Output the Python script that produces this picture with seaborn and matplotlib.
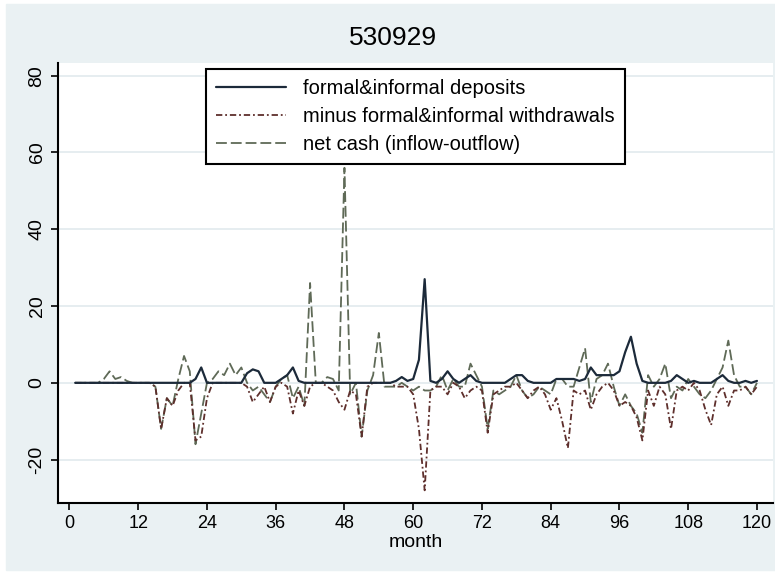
import matplotlib
matplotlib.use("Agg")
import matplotlib.pyplot as plt
import numpy as np
import pandas as pd
import seaborn as sns
from matplotlib.patches import Rectangle

sns.set_theme(style="white")
plt.rcParams["font.family"] = ["Liberation Sans Narrow", "Liberation Sans", "DejaVu Sans"]
plt.rcParams["text.color"] = "black"
plt.rcParams["xtick.color"] = "black"
plt.rcParams["ytick.color"] = "black"
plt.rcParams["axes.labelcolor"] = "black"

# %%
months = list(range(1, 121))

deposits = [
    0, 0, 0, 0, 0, 0, 0, 0, 0, 0,
    0, 0, 0, 0, 0, 0, 0, 0, 0, 0,
    0, 1, 4, 0, 0, 0, 0, 0, 0, 0,
    2.5, 3.5, 3, 0, 0, 0, 1, 2, 4, 0.5,
    0, 0, 0, 0, 0, 0, 0, 0, 0, 0,
    0, 0, 0, 0, 0, 0, 0.5, 1.5, 0.5, 1,
    6, 27, 0.5, 0, 1, 3, 1, 0, 1, 2,
    0.5, 0, 0, 0, 0, 0, 1, 2, 2, 0.5,
    0, 0, 0, 0, 1, 1, 1, 1, 0.5, 1,
    4, 2, 2, 2, 2, 3, 8, 12, 5, 0.5,
    0, 0, 0, 0, 0.5, 2, 1, 0, 0.5, 0,
    0, 0, 1, 2, 0.5, 0, 0, 0.5, 0, 0.5,
]

withdrawals = [
    0, 0, 0, 0, 0, 0, 0, 0, 0, 0,
    0, 0, 0, 0, -1, -12, -4, -6, -2, 0,
    0, -15, -14, -4, 0, 0, 0, 0, 0, 0,
    -1, -5, -3, -1, -5, -1, 0, -1, -8, -2,
    -6, -1, 0, 0, -1, -2, -5, -7, -2, -3,
    -14, -1, 0, 0, 0, 0, -1, -1, -1, -3,
    -12, -28, -2, -1, -1, -3, 0, -1, -4, -2,
    -1, -2, -13, -3, -2, -1, -1, 0, -2, -4,
    -2, -1, -3, -7, -4, -10, -17, -2, -3, -2,
    -7, -3, -1, 0, -2, -6, -5, -6, -9, -15,
    -2, -6, -1, -3, -12, -2, -1, -2, 0, -2,
    -7, -11, -3, -1, -6, -2, -2, -1, -3, -1,
]

net_cash = [
    0, 0, 0, 0, 0, 1, 3, 1, 1.5, 0.5,
    0, 0, 0, 0, -1, -12, -4, -6, 1, 7,
    3, -16, -8, 0, 1, 3, 2, 5, 2, 4,
    0, -2, -1, -3, -5, -1, 1, 2, -4, -1,
    -6, 26, 0, 0, 1.5, 1, -2, 56, -3, 0,
    -14, -2, 2, 13, -1, -1, -1, 0, -1, -2,
    -1, -2, -2, -1, 2, -2, 1, -1, -1, 5,
    2, -1, -12, -2, -3, -2, -1, 2, -2, -4,
    -3, -1, -2, -3, 1, 1, -1, -1, 4, 9,
    -5, 1, 2, 5, -1, -6, -3, -6, -8, -13,
    2, -1, 1, 5, -4, -1, -2, 1, -1, -3,
    -4, -2, 1, 4, 11, 2, -1, -1, -3, 0,
]

labels = [
    "formal&informal deposits",
    "minus formal&informal withdrawals",
    "net cash (inflow-outflow)",
]
x_ticks = list(range(0, 121, 12))
y_ticks = [-20, 0, 20, 40, 60, 80]

# %%
df = pd.DataFrame({"month": months, "dep": deposits, "wd": withdrawals, "net": net_cash})

bg = "#eaf1f3"
fig = plt.figure(figsize=(7.75, 5.74), dpi=100, facecolor="white")
fig.patches.append(Rectangle((6 / 775, 4 / 574), 769 / 775, 566 / 574,
                             transform=fig.transFigure, color=bg, zorder=-10))
ax = fig.add_axes([58 / 775, 1 - 503 / 574, 715 / 775, 440 / 574])
ax.set_zorder(1)
ax.set_facecolor("white")

sns.lineplot(data=df, x="month", y="net", ax=ax, color="#5f6a57", lw=1.3,
             linestyle=(0, (6, 2.2)), label=labels[2], zorder=3)
sns.lineplot(data=df, x="month", y="wd", ax=ax, color="#5e2f2c", lw=1.3,
             linestyle=(0, (3.5, 1.6, 1, 1.6)), label=labels[1], zorder=4)
sns.lineplot(data=df, x="month", y="dep", ax=ax, color="#1c2a3a", lw=1.6,
             label=labels[0], zorder=5)

ax.set_xlim(-2, 122.8)
ax.set_ylim(-31.3, 83.3)
ax.set_xticks(x_ticks)
ax.set_yticks(y_ticks)
ax.set_yticklabels([str(v) for v in y_ticks], rotation=90, va="center")
ax.tick_params(axis="y", labelsize=14)
ax.tick_params(axis="x", labelsize=13)
ax.tick_params(axis="both", direction="out", length=5, width=1.2, color="black",
               pad=4, left=True, bottom=True)
ax.grid(axis="y", color="#dfe8ec", lw=1.1)
ax.grid(axis="x", visible=False)
for side in ["top", "right"]:
    ax.spines[side].set_visible(False)
for side in ["left", "bottom"]:
    ax.spines[side].set_color("black")
    ax.spines[side].set_linewidth(1.5)

ax.set_xlabel("month", fontsize=14, labelpad=1)
ax.set_ylabel("")
fig.text(0.507, 0.934, "530929", ha="center", va="center", fontsize=19)

handles, labs = ax.get_legend_handles_labels()
order = [2, 1, 0]
leg = ax.legend([handles[i] for i in order], [labs[i] for i in order],
                loc="upper center", bbox_to_anchor=(0.5, 1.0), borderaxespad=0.3,
                fontsize=14.5, frameon=True, fancybox=False, edgecolor="black",
                framealpha=1, handlelength=3.5, handletextpad=0.85,
                borderpad=0.5, labelspacing=0.45)
leg.get_frame().set_linewidth(1.5)

fig.savefig("out.png", dpi=100, facecolor=fig.get_facecolor())
